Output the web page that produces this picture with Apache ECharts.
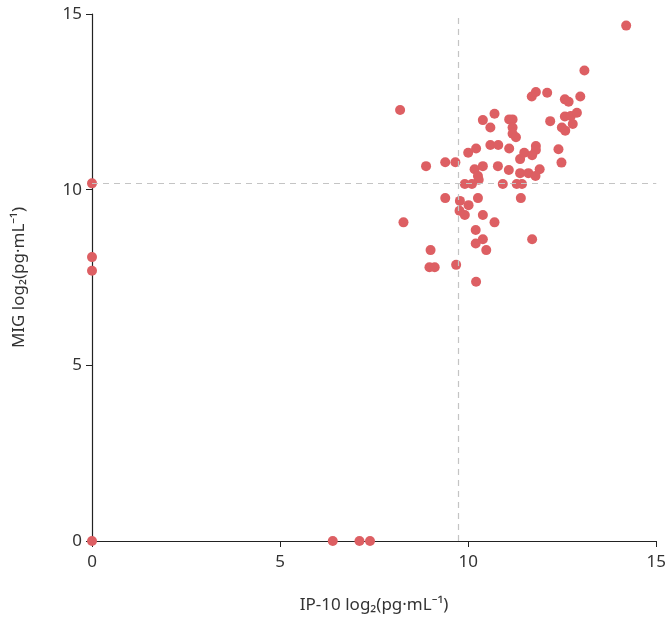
<!DOCTYPE html>
<html>
<head>
<meta charset="utf-8">
<script src="https://cdn.jsdelivr.net/npm/echarts@6/dist/echarts.min.js"></script>
<style>
  html, body { margin: 0; padding: 0; background: #fff; }
  #chart { width: 669px; height: 624px; }
</style>
</head>
<body>
<div id="chart"></div>
<script>
// IP-10 (x) and MIG (y), log2 pg/mL
var ip10 = [
  14.20, 13.09, 11.69, 11.80, 12.10, 12.57, 12.67, 12.98, 8.19, 10.39,
  10.70, 11.09, 11.18, 10.59, 11.18, 11.18, 11.27, 12.18, 12.57, 12.73,
  12.89, 12.78, 12.49, 12.58, 10.59, 10.80, 11.09, 10.00, 10.21, 11.49,
  11.80, 11.80, 11.70, 11.38, 12.40, 12.48, 8.88, 9.39, 9.66, 10.17,
  10.39, 10.79, 11.08, 11.38, 11.60, 11.90, 11.79, 10.26, 10.28, 9.91,
  10.10, 10.92, 11.29, 11.43, 9.39, 9.78, 10.26, 10.01, 11.40, 9.77,
  9.91, 10.39, 8.28, 10.70, 10.20, 11.70, 10.39, 10.20, 10.48, 9.00,
  8.97, 9.11, 9.68, 10.21,
  0, 0, 0, 0, 6.40, 7.11, 7.39
];
var mig = [
  14.67, 13.39, 12.65, 12.78, 12.76, 12.57, 12.50, 12.65, 12.27, 11.98,
  12.16, 12.00, 12.00, 11.77, 11.77, 11.59, 11.49, 11.95, 12.08, 12.10,
  12.19, 11.87, 11.77, 11.68, 11.27, 11.27, 11.17, 11.05, 11.17, 11.05,
  11.24, 11.13, 10.98, 10.87, 11.15, 10.77, 10.67, 10.78, 10.78, 10.58,
  10.67, 10.67, 10.56, 10.47, 10.47, 10.58, 10.39, 10.39, 10.28, 10.16,
  10.16, 10.16, 10.16, 10.16, 9.76, 9.68, 9.76, 9.56, 9.76, 9.40,
  9.28, 9.28, 9.07, 9.07, 8.85, 8.59, 8.59, 8.47, 8.28, 8.28,
  7.79, 7.79, 7.86, 7.38,
  10.18, 8.08, 7.69, 0, 0, 0, 0
];
var ip10Cut = 9.74;
var migCut = 10.18;

var points = ip10.map(function (x, i) { return [x, mig[i]]; });

var chart = echarts.init(document.getElementById('chart'));
var fontFam = '"Noto Sans", "Open Sans", sans-serif';
chart.setOption({
  animation: false,
  grid: { left: 92, right: 12, top: 14, bottom: 83 },
  xAxis: {
    type: 'value', min: 0, max: 15, interval: 5,
    name: 'IP-10 log\u2082(pg\u00b7mL\u207b\u00b9)',
    nameLocation: 'middle', nameGap: 56,
    nameTextStyle: { fontSize: 17, color: '#333', fontFamily: fontFam },
    axisLine: { lineStyle: { color: '#222', width: 1.2 } },
    axisTick: { show: true, length: 6, lineStyle: { color: '#222' } },
    axisLabel: { fontSize: 17, color: '#333', fontFamily: fontFam, margin: 13 },
    splitLine: { show: false }
  },
  yAxis: {
    type: 'value', min: 0, max: 15, interval: 5,
    name: 'MIG log\u2082(pg\u00b7mL\u207b\u00b9)',
    nameLocation: 'middle', nameGap: 64, nameRotate: 90,
    nameTextStyle: { fontSize: 17, color: '#333', fontFamily: fontFam },
    axisLine: { show: true, lineStyle: { color: '#222', width: 1.2 } },
    axisTick: { show: true, length: 6, lineStyle: { color: '#222' } },
    axisLabel: { fontSize: 17, color: '#333', fontFamily: fontFam, margin: 10 },
    splitLine: { show: false }
  },
  series: [{
    type: 'scatter',
    data: points,
    symbolSize: 10,
    clip: false,
    itemStyle: { color: '#dd5f63', opacity: 1 },
    markLine: {
      silent: true,
      symbol: 'none',
      label: { show: false },
      lineStyle: { color: '#c4c4c4', type: [6, 5], width: 1.2 },
      data: [{ xAxis: ip10Cut }, { yAxis: migCut }]
    },
    z: 3
  }]
});
</script>
</body>
</html>
